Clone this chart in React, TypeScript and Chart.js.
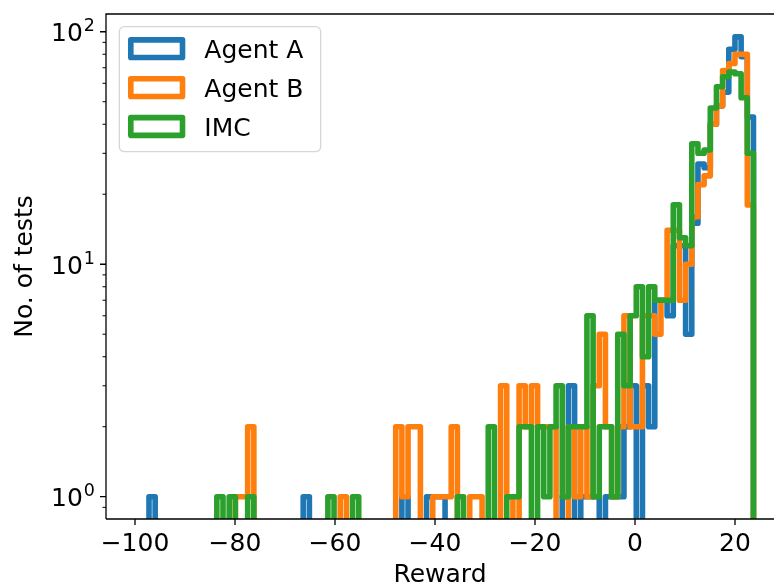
import React, { useEffect, useRef } from "react";
import { Chart, registerables } from "chart.js";

Chart.register(...registerables);

// Shared histogram bins: left edge of the first bin and bin width (reward units)
const binStart = -97.2;
const binWidth = 1.2336;

// Number of tests per reward bin
const agentACounts = [
  1, 0, 0, 0, 0, 0, 0, 0, 0, 0,
  0, 0, 0, 0, 0, 0, 0, 0, 0, 0,
  0, 0, 0, 0, 0, 1, 0, 0, 0, 0,
  0, 0, 0, 0, 0, 0, 0, 0, 0, 0,
  0, 1, 0, 0, 0, 1, 1, 1, 0, 0,
  0, 0, 0, 0, 0, 0, 0, 0, 0, 0,
  0, 0, 0, 0, 0, 0, 0, 1, 3, 0,
  1, 1, 1, 0, 1, 1, 1, 2, 3, 0,
  3, 2, 7, 7, 6, 12, 12, 5, 15, 27,
  26, 40, 48, 55, 84, 95, 78, 43,
];

const agentBCounts = [
  0, 0, 0, 0, 0, 0, 0, 0, 0, 0,
  0, 0, 0, 0, 1, 1, 2, 0, 0, 0,
  0, 0, 0, 0, 0, 0, 0, 0, 0, 0,
  0, 1, 0, 0, 0, 0, 0, 0, 0, 0,
  2, 1, 2, 2, 0, 0, 1, 1, 1, 2,
  0, 0, 1, 1, 0, 0, 0, 3, 1, 0,
  3, 2, 3, 2, 2, 2, 0, 0, 2, 1,
  2, 1, 3, 5, 2, 1, 2, 6, 2, 2,
  6, 6, 5, 7, 14, 14, 7, 10, 16, 22,
  24, 40, 48, 68, 73, 80, 80, 18,
];

const imcCounts = [
  0, 0, 0, 0, 0, 0, 0, 0, 0, 0,
  0, 1, 0, 1, 0, 0, 1, 0, 0, 0,
  0, 0, 0, 0, 0, 0, 0, 0, 0, 1,
  0, 0, 0, 1, 0, 0, 0, 0, 0, 0,
  0, 0, 0, 0, 0, 0, 0, 0, 0, 0,
  1, 0, 0, 0, 0, 2, 0, 0, 1, 1,
  2, 2, 0, 2, 1, 2, 3, 1, 2, 2,
  2, 6, 1, 2, 2, 1, 5, 3, 6, 8,
  4, 8, 7, 7, 7, 18, 13, 12, 33, 30,
  31, 47, 58, 64, 67, 66, 52, 30,
];

const seriesLabels = ["Agent A", "Agent B", "IMC"];
const seriesColors = ["#1f77b4", "#ff7f0e", "#2ca02c"];

const xTickValues = [-100, -80, -60, -40, -20, 0, 20];
const yMajorTicks = [1, 10, 100];
const yTickBase = "10";
const yTickExponents = ["0", "1", "2"];
const yMinorTicks = [0.9, 2, 3, 4, 5, 6, 7, 8, 9, 20, 30, 40, 50, 60, 70, 80, 90];
const xLimits = [-105.8, 27.8];
const yLimits = [0.802, 119.2];

const FONT = "DejaVu Sans";
const FS = 25;
const FS_SUP = 17.5;
const LINE_W = 5.6;

// Empty bins sit far below the log axis, so their outline is clipped away.
const EMPTY_LEVEL = 0.01;

function stepOutline(counts: number[]) {
  const level = (c: number) => (c > 0 ? c : EMPTY_LEVEL);
  const pts: { x: number; y: number }[] = [{ x: binStart, y: EMPTY_LEVEL }];
  counts.forEach((c, i) => {
    const left = binStart + i * binWidth;
    pts.push({ x: left, y: level(c) }, { x: left + binWidth, y: level(c) });
  });
  pts.push({ x: binStart + counts.length * binWidth, y: EMPTY_LEVEL });
  return pts;
}

const framePlugin = {
  id: "frame",
  afterDatasetsDraw(chart: any) {
    const { ctx, chartArea: a, scales } = chart;
    const xs = scales.x;
    const ys = scales.y;
    ctx.save();
    ctx.strokeStyle = "#000";
    ctx.lineCap = "butt";
    ctx.lineWidth = 1.3;
    ctx.beginPath();
    ctx.moveTo(a.left, a.bottom);
    ctx.lineTo(a.left, a.top);
    ctx.lineTo(a.right + 2, a.top);
    ctx.moveTo(a.left, a.bottom);
    ctx.lineTo(a.right + 2, a.bottom);
    ctx.stroke();

    ctx.beginPath();
    xTickValues.forEach((v) => {
      const px = xs.getPixelForValue(v);
      ctx.moveTo(px, a.bottom);
      ctx.lineTo(px, a.bottom + 6);
    });
    yMajorTicks.forEach((v) => {
      const py = ys.getPixelForValue(v);
      ctx.moveTo(a.left, py);
      ctx.lineTo(a.left - 6, py);
    });
    ctx.stroke();

    ctx.lineWidth = 1;
    ctx.beginPath();
    yMinorTicks.forEach((v) => {
      const py = ys.getPixelForValue(v);
      if (py < a.top || py > a.bottom) return;
      ctx.moveTo(a.left, py);
      ctx.lineTo(a.left - 3.5, py);
    });
    ctx.stroke();

    // y tick labels: base 10 with a raised exponent
    ctx.fillStyle = "#000";
    ctx.textBaseline = "alphabetic";
    ctx.textAlign = "left";
    yMajorTicks.forEach((v, i) => {
      const py = ys.getPixelForValue(v);
      ctx.font = `${FS_SUP}px "${FONT}"`;
      const expW = ctx.measureText(yTickExponents[i]).width;
      ctx.font = `${FS}px "${FONT}"`;
      const baseW = ctx.measureText(yTickBase).width;
      const right = a.left - 11;
      const baseX = right - expW - baseW - 1;
      ctx.fillText(yTickBase, baseX, py + 9.5);
      ctx.font = `${FS_SUP}px "${FONT}"`;
      ctx.fillText(yTickExponents[i], right - expW, py - 0.5);
    });
    ctx.restore();
  },
  afterDraw(chart: any) {
    const { ctx, chartArea: a } = chart;
    const boxX = a.left + 13.3;
    const boxY = a.top + 12.7;
    const boxW = 201.4;
    const boxH = 125;
    const r = 5;
    ctx.save();
    ctx.beginPath();
    ctx.moveTo(boxX + r, boxY);
    ctx.arcTo(boxX + boxW, boxY, boxX + boxW, boxY + boxH, r);
    ctx.arcTo(boxX + boxW, boxY + boxH, boxX, boxY + boxH, r);
    ctx.arcTo(boxX, boxY + boxH, boxX, boxY, r);
    ctx.arcTo(boxX, boxY, boxX + boxW, boxY, r);
    ctx.closePath();
    ctx.fillStyle = "rgba(255,255,255,0.8)";
    ctx.fill();
    ctx.strokeStyle = "#d6d6d6";
    ctx.lineWidth = 1.3;
    ctx.stroke();

    chart.data.datasets.forEach((ds: any, i: number) => {
      const cy = boxY + 22 + i * 38.9;
      ctx.strokeStyle = ds.borderColor;
      ctx.lineWidth = LINE_W;
      ctx.lineJoin = "round";
      ctx.strokeRect(boxX + 11.5, cy - 8.85, 51.7, 17.7);
      ctx.fillStyle = "#000";
      ctx.font = `${FS}px "${FONT}"`;
      ctx.textBaseline = "alphabetic";
      ctx.textAlign = "left";
      ctx.fillText(ds.label, boxX + 85, cy + 9);
    });
    ctx.restore();
  },
};

export default function App() {
  const canvasRef = useRef<HTMLCanvasElement>(null);

  useEffect(() => {
    const canvas = canvasRef.current;
    if (!canvas) return;
    Chart.defaults.font.family = FONT;
    Chart.defaults.color = "#000";

    const countSets = [agentACounts, agentBCounts, imcCounts];
    const datasets = countSets.map((counts, i) => ({
      label: seriesLabels[i],
      data: stepOutline(counts),
      borderColor: seriesColors[i],
      backgroundColor: seriesColors[i],
      borderWidth: LINE_W,
      borderJoinStyle: "round" as const,
      borderCapStyle: "round" as const,
      pointRadius: 0,
      fill: false,
      tension: 0,
      clip: 0,
      order: countSets.length - 1 - i,
    }));

    const chart = new Chart(canvas, {
      type: "line",
      data: { datasets },
      options: {
        animation: false,
        responsive: false,
        devicePixelRatio: 1,
        events: [],
        layout: { padding: { top: 14, left: 0, right: 0, bottom: 0 } },
        plugins: { legend: { display: false }, tooltip: { enabled: false } },
        scales: {
          x: {
            type: "linear",
            position: "bottom",
            min: xLimits[0],
            max: xLimits[1],
            afterBuildTicks: (s: any) => {
              s.ticks = xTickValues.map((value) => ({ value }));
            },
            afterFit: (s: any) => {
              s.height = 68;
              s.paddingLeft = 0;
              s.paddingRight = 0;
            },
            grid: { display: false, drawTicks: false },
            border: { display: false },
            ticks: {
              autoSkip: false,
              maxRotation: 0,
              padding: 10,
              color: "#000",
              font: { size: FS, family: FONT },
              callback: (v: any) => (v < 0 ? "\u2212" + Math.abs(v) : String(v)),
            },
            title: {
              display: true,
              text: "Reward",
              color: "#000",
              font: { size: FS, family: FONT },
              padding: { top: 0, bottom: -3 },
            },
          },
          y: {
            type: "logarithmic",
            position: "left",
            min: yLimits[0],
            max: yLimits[1],
            afterBuildTicks: (s: any) => {
              s.ticks = yMajorTicks.map((value) => ({ value }));
            },
            afterFit: (s: any) => {
              s.width = 106;
              s.paddingTop = 0;
              s.paddingBottom = 0;
            },
            grid: { display: false, drawTicks: false },
            border: { display: false },
            ticks: { display: false },
            title: {
              display: true,
              text: "No. of tests",
              color: "#000",
              font: { size: FS, family: FONT },
              padding: { top: 10, bottom: 0 },
            },
          },
        },
      },
      plugins: [framePlugin],
    });

    return () => chart.destroy();
  }, []);

  return (
    <div style={{ position: "fixed", left: 0, top: 0, width: 774, height: 587, background: "#fff" }}>
      <canvas ref={canvasRef} width={774} height={587} style={{ display: "block" }} />
    </div>
  );
}
